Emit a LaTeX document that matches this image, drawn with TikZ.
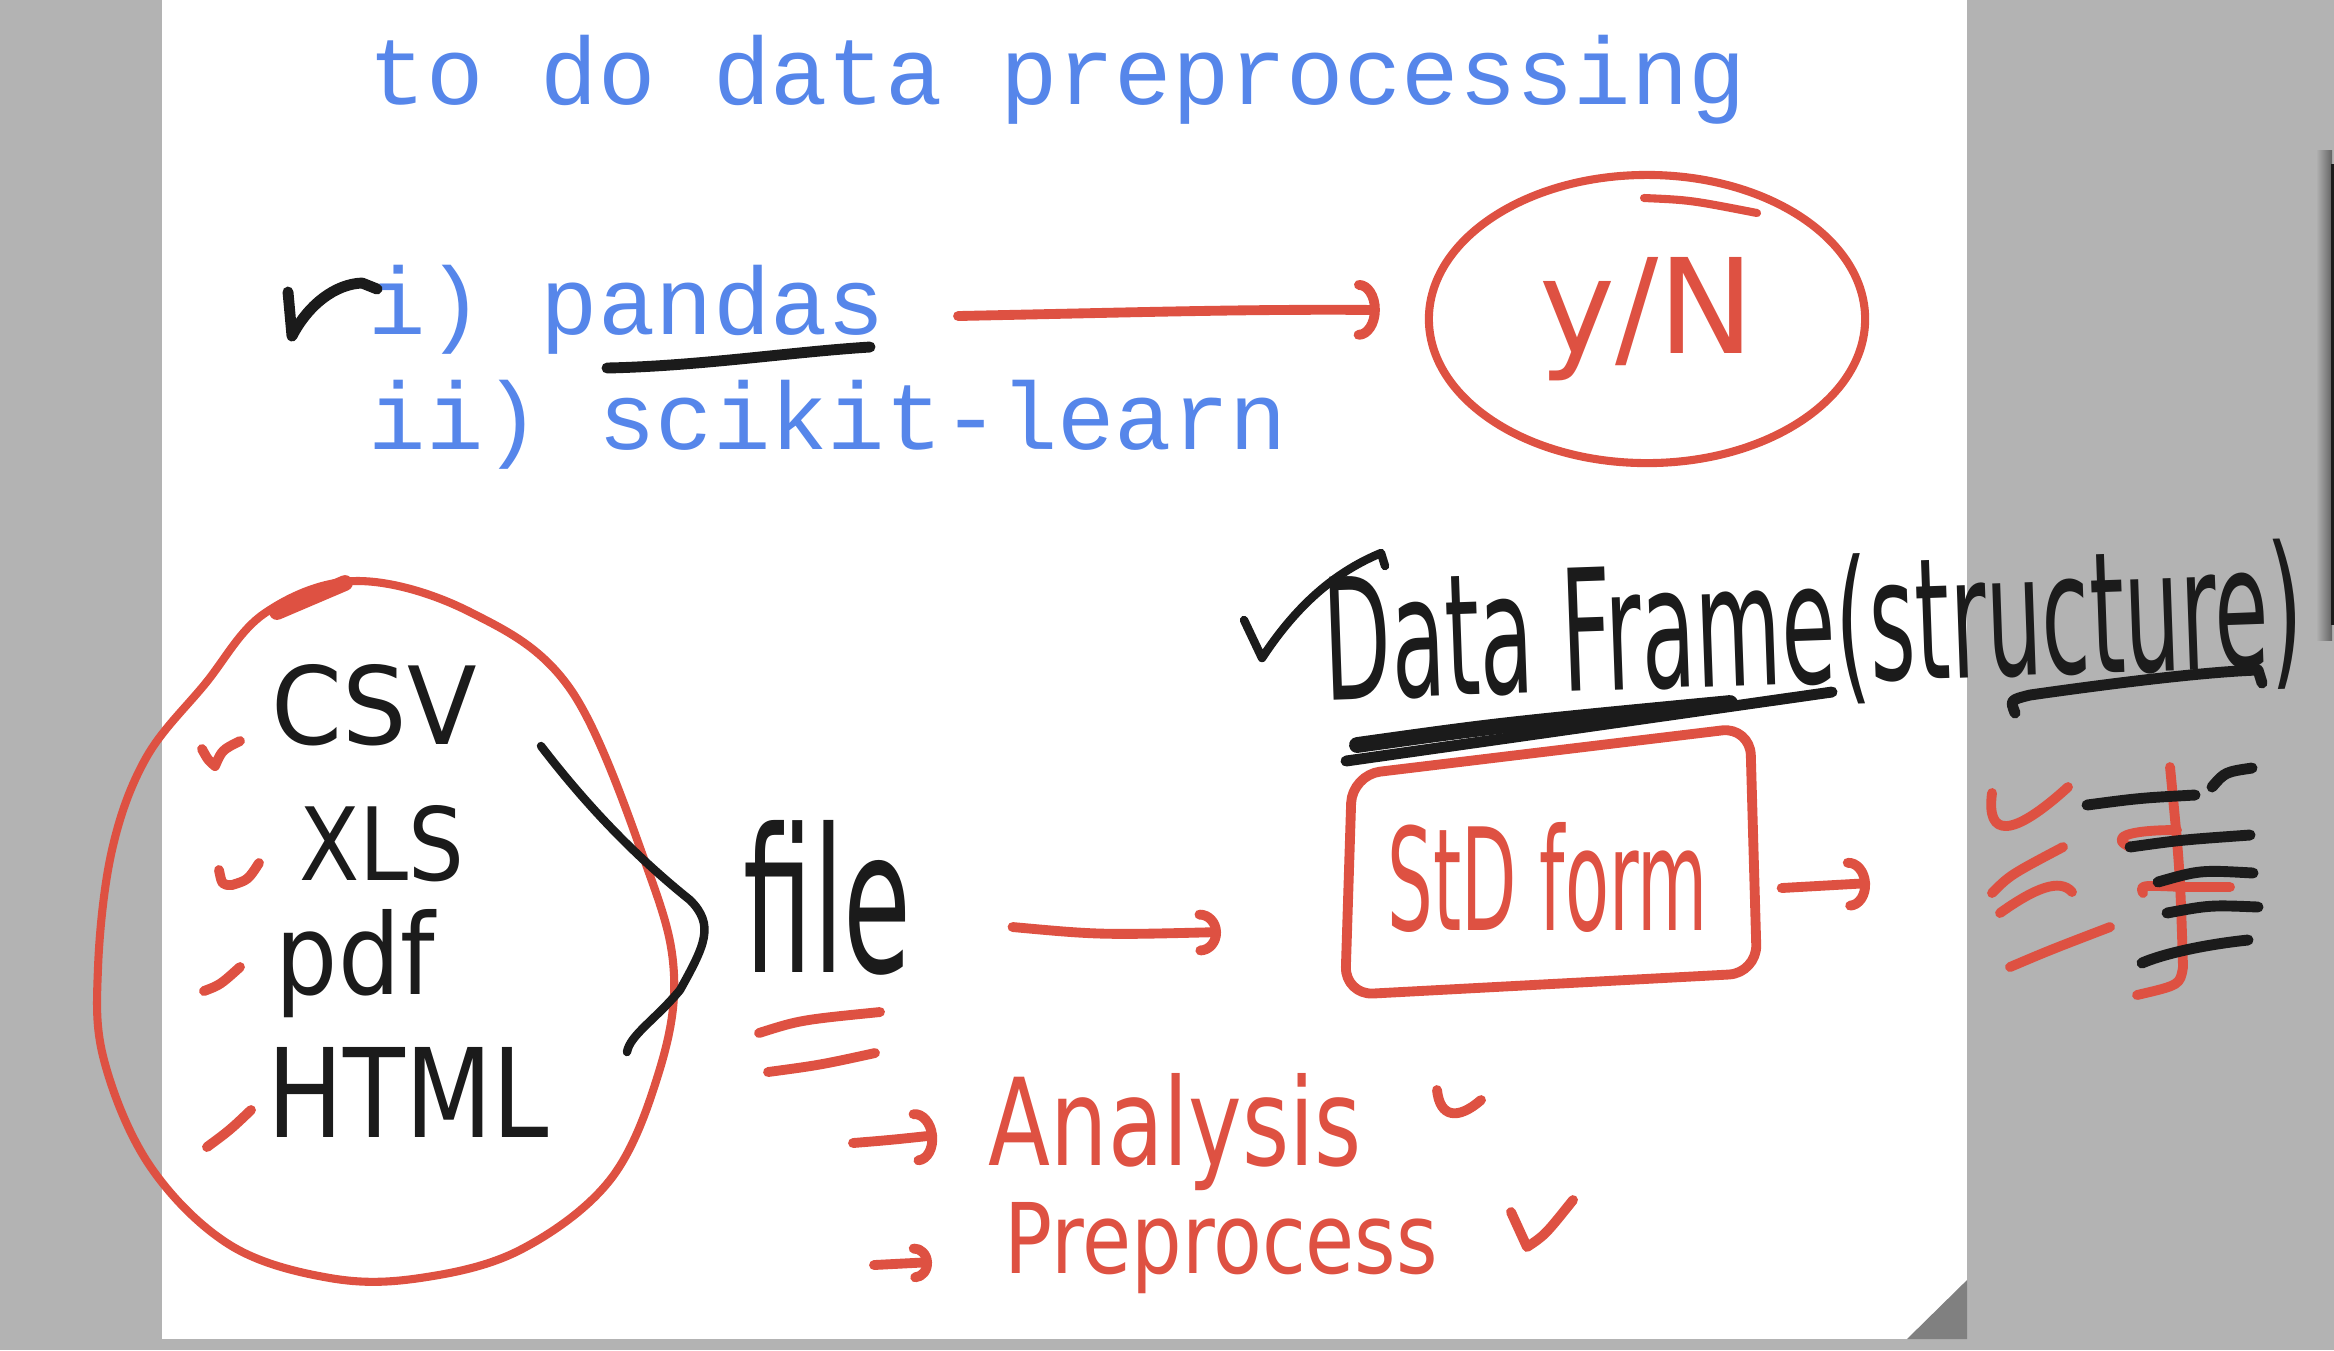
\documentclass[tikz,border=0pt]{standalone}
\usepackage{fontspec}
\usepackage{graphicx}
\usetikzlibrary{arrows.meta,shapes.geometric}
\newfontfamily\typefont{Liberation Mono}
\newfontfamily\handfont{DejaVu Sans}
\newlength\hwunit
\setlength\hwunit{0.1mm}
% handwritten word squeezed into a box of w x h (in px)
\newcommand\hw[3]{\resizebox{#1\hwunit}{#2\hwunit}{\handfont #3}}
\definecolor{penred}{HTML}{DE5142}
\definecolor{penblack}{HTML}{1B1B1B}
\definecolor{typeblue}{HTML}{5686EA}
\definecolor{desk}{HTML}{B3B3B3}
\definecolor{fold}{HTML}{808080}
\tikzset{
  redpen/.style={draw=penred, line width=2.8pt, line cap=round, line join=round},
  blackpen/.style={draw=penblack, line width=3.1pt, line cap=round, line join=round},
  typed/.style={inner sep=0pt, anchor=base west, text=typeblue, font=\typefont\fontsize{27.2}{32}\selectfont},
  hand/.style={inner sep=0pt, anchor=base west, text=penblack},
  barb/.style 2 args={-{Arc Barb[width=#1, length=#2, round]}}
}
\begin{document}
\begin{tikzpicture}[x=0.01cm, y=-0.01cm]
\useasboundingbox (0,0) rectangle (2334,1350);
\fill[desk] (0,0) rectangle (2334,1350);
\fill[white] (162,0) rectangle (1967,1339);
\fill[fold] (1907,1339) -- (1967,1280) -- (1967,1339) -- cycle;
\shade[left color=desk, right color=desk!55!black] (2316,150) rectangle (2332,640);
\fill[penblack] (2331,164) rectangle (2334,625);

\node[typed] (title) at (368,104) {to do data preprocessing};
\node[typed] (pandas) at (368,334) {i) pandas};
\node[typed] (sklearn) at (368,449) {ii) scikit-learn};
\draw[blackpen] (288,292) -- (292,336) .. controls (308,305) and (335,284) .. (362,283) -- (377,289);
\draw[blackpen] (607,368) .. controls (700,366) and (790,352) .. (870,347);

\node[draw=penred, line width=2.3pt, ellipse, minimum width=4.36cm, minimum height=2.88cm,
  inner sep=0pt, text=penred] (yn) at (1647,319) {\hw{215}{96}{y/N}};
\draw[redpen, line width=2.3pt] (1644,198) .. controls (1690,200) .. (1757,213);
\draw[redpen, barb={17pt}{6pt}] ([shift={(72,-18)}]pandas.base east)
  .. controls (1150,312) and (1250,309) .. ([shift={(-45,-9)}]yn.west);

\draw[redpen, line width=2.3pt] plot[smooth cycle, tension=0.6] coordinates {
  (357,581) (470,612) (571,690) (648,870) (674,975) (658,1075) (610,1180) (520,1250)
  (420,1278) (330,1278) (230,1245) (150,1166) (104,1060) (98,968) (112,850) (146,758)
  (205,684) (265,613)};
\draw[redpen, line width=4.5pt] (277,612) -- (345,583);

\node[hand] (csv) at (271,744) {\hw{205}{80}{CSV}};
\node[hand] (xls) at (299,880) {\hw{165}{75}{XLS}};
\node[hand] (pdf) at (275,994) {\hw{159}{85}{pdf}};
\node[hand] (html) at (267,1137) {\hw{281}{90}{HTML}};
\draw[redpen] (202,749) .. controls (208,760) .. (215,766) .. controls (222,750) .. (240,741);
\draw[redpen] (219,870) .. controls (222,885) .. (232,885) .. controls (248,880) .. (259,863);
\draw[redpen] (204,991) .. controls (220,985) .. (240,967);
\draw[redpen] (207,1147) .. controls (230,1130) .. (251,1110);

\draw[blackpen, line width=2.4pt] (541,746) .. controls (590,810) and (640,860) .. (690,900)
  .. controls (715,925) and (705,945) .. (680,990) .. controls (655,1020) and (630,1035) .. (627,1052);

\node[hand] (file) at (743,972) {\hw{168}{152}{file}};
\draw[redpen] (759,1033) .. controls (800,1020) .. (880,1012);
\draw[redpen] (768,1072) .. controls (820,1065) .. (875,1053);

\node[hand, text=penred] (std) at (1387,930) {\hw{320}{108}{StD form}};
\draw[redpen, rounded corners=8pt] (1352,775) -- (1750,727) -- (1757,973) -- (1345,995) -- cycle;
\draw[redpen, barb={13pt}{6pt}] ([shift={(100,-45)}]file.base east)
  .. controls (1100,935) .. ([shift={(-166,2)}]std.base west);

\node[hand, rotate=2] (df) at (1325,700) {\hw{979}{128}{Data Frame(structure)}};
\draw[blackpen, line width=2.4pt] (1244,620) -- (1262,658) .. controls (1300,600) and (1340,570) .. (1381,553) -- (1385,566);
\draw[blackpen, line width=4.5pt] (1357,745) .. controls (1500,725) .. (1730,703);
\draw[blackpen] (1346,761) .. controls (1600,725) .. (1832,692);
\draw[blackpen] (2015,713) .. controls (2010,700) .. (2030,695) .. controls (2100,685) and (2200,672) .. (2258,670) -- (2262,683);

\coordinate (tbl) at (1870,883);
\draw[redpen, barb={15pt}{6pt}] ([shift={(73,-42)}]std.base east) -- (tbl);
\draw[redpen] (1992,793) .. controls (1986,838) and (2012,838) .. (2068,787);
\draw[redpen] (1992,893) .. controls (2010,875) .. (2063,847);
\draw[redpen] (2000,913) .. controls (2035,888) and (2060,878) .. (2072,892);
\draw[redpen] (2010,967) .. controls (2050,950) .. (2110,927);
\draw[redpen] (2170,767) .. controls (2180,870) .. (2183,967) .. controls (2180,985) .. (2137,995);
\draw[redpen] (2130,847) .. controls (2110,838) and (2125,830) .. (2177,830);
\draw[redpen] (2143,893) .. controls (2140,885) .. (2183,887) -- (2230,887);
\draw[blackpen] (2087,805) .. controls (2140,798) .. (2195,795);
\draw[blackpen] (2212,787) .. controls (2225,772) .. (2252,768);
\draw[blackpen] (2130,847) .. controls (2180,840) .. (2250,835);
\draw[blackpen] (2158,882) .. controls (2200,870) .. (2253,873);
\draw[blackpen] (2167,913) .. controls (2210,905) .. (2258,907);
\draw[blackpen] (2142,963) .. controls (2160,955) and (2200,945) .. (2248,940);

\node[hand, text=penred] (ana) at (988,1165) {\hw{373}{92}{Analysis}};
\coordinate (a0) at (853,1143);
\draw[redpen, barb={16pt}{6pt}] (a0) .. controls (890,1140) .. ([shift={(-51,-30)}]ana.base west);
\draw[redpen] (1437,1090) .. controls (1440,1118) and (1458,1120) .. (1481,1100);

\node[hand, text=penred] (pre) at (1004,1273) {\hw{433}{71}{Preprocess}};
\coordinate (p0) at (874,1265);
\draw[redpen, barb={11pt}{5pt}] (p0) -- ([shift={(-72,-11)}]pre.base west);
\draw[redpen] (1511,1212) -- (1527,1247) .. controls (1545,1235) .. (1573,1200);
\end{tikzpicture}
\end{document}
